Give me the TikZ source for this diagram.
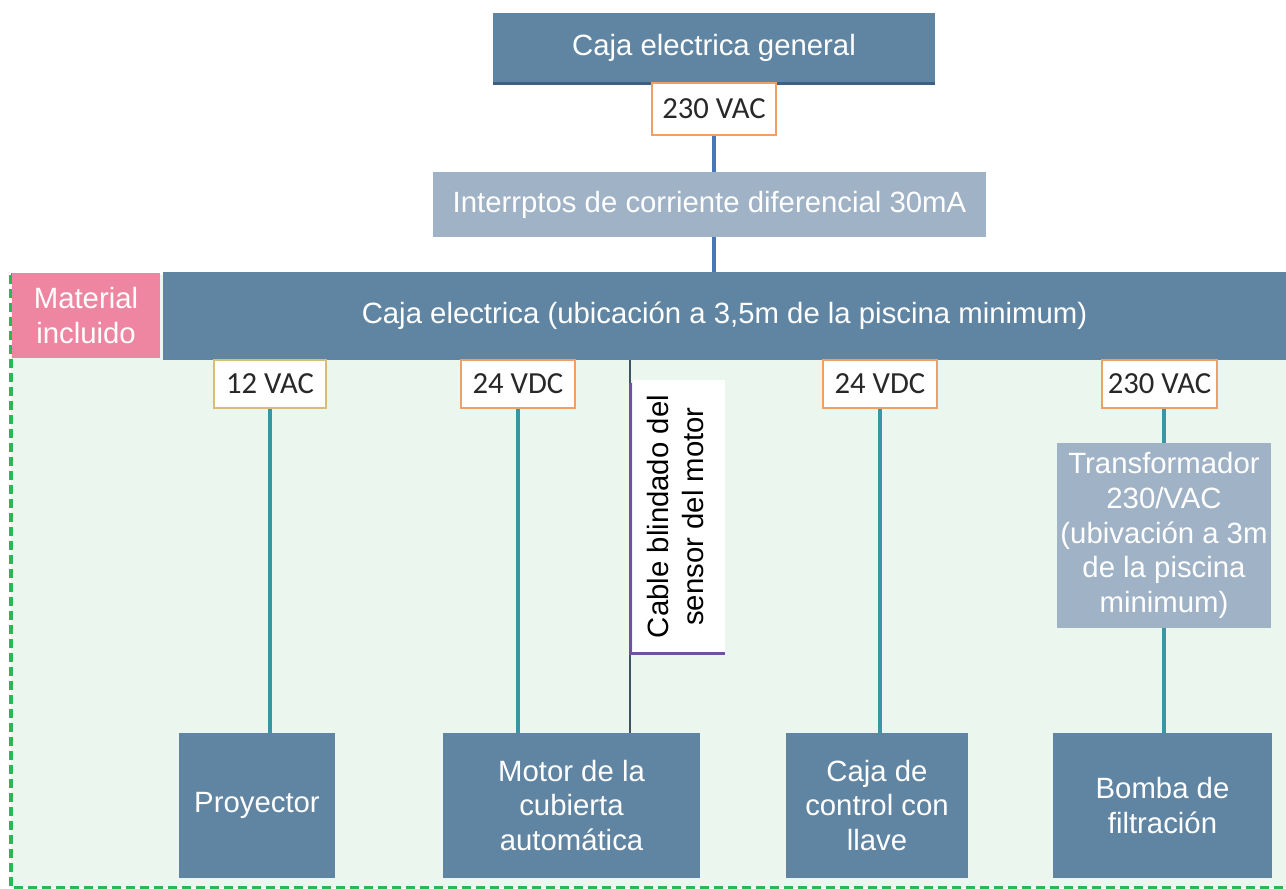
\documentclass[tikz,border=0pt]{standalone}
\usepackage{fontspec}
\setmainfont{Liberation Sans}
\newfontfamily\lblfont{Carlito}
\usetikzlibrary{positioning}

\definecolor{boxblue}{RGB}{96,133,163}
\definecolor{boxgrey}{RGB}{160,178,198}
\definecolor{edgeblue}{RGB}{60,95,130}
\definecolor{pinkbox}{RGB}{238,134,162}
\definecolor{zonefill}{RGB}{234,246,238}
\definecolor{zoneline}{RGB}{40,185,85}
\definecolor{wireteal}{RGB}{58,150,165}
\definecolor{wireblue}{RGB}{70,120,185}
\definecolor{wiredark}{RGB}{60,85,95}
\definecolor{wirepurple}{RGB}{112,80,160}
\definecolor{tagline}{RGB}{240,160,100}
\definecolor{tagyellow}{RGB}{215,190,120}
\definecolor{tagtext}{RGB}{40,40,40}

\begin{document}
\begin{tikzpicture}[x=0.75pt,y=0.75pt,yscale=-1,xscale=1,
    box/.style={fill=boxblue, text=white, inner sep=0pt, align=center,
        font=\fontsize{22}{26}\selectfont},
    lightbox/.style={box, fill=boxgrey},
    tag/.style={fill=white, draw=tagline, line width=1pt, inner sep=0pt,
        text=tagtext, minimum height=36pt, font=\lblfont\fontsize{23}{26}\selectfont},
    wire/.style={wireteal, line width=2.4pt},
    feed/.style={wireblue, line width=2.4pt}
]
\useasboundingbox (0,0) rectangle (1286,889);

% zone of material included
\draw [fill=zonefill, draw=zoneline, line width=2.4pt, dash pattern=on 7pt off 3.5pt]
    (11,274.5) rectangle (1292,888);

% supply chain at the top
\node [box, minimum width=331.5pt, minimum height=52.5pt] (general) at (714,48) {Caja electrica general};
\draw [edgeblue, line width=2pt] (general.south west) -- (general.south east);
\node [tag, minimum width=93pt, minimum height=39pt] (v0) at (714,109) {230 VAC};
\node [lightbox, minimum width=414.75pt, minimum height=48.75pt] (rcd) at (709.5,204.5) {Interrptos de corriente diferencial 30mA};
\node [box, minimum width=842.25pt, minimum height=66pt] (caja) at (724.5,316) {Caja electrica (ubicación a 3,5m de la piscina minimum)};
\node [box, fill=pinkbox, minimum width=111pt, minimum height=63.75pt] (incl) at (86,315.5) {Material\\incluido};

\draw [feed] (v0) -- (v0 |- rcd.north);
\draw [feed] (rcd.south -| v0) -- (v0 |- caja.north);

% voltage tags
\node [tag, draw=tagyellow, minimum width=84pt] (v1) at (270,384) {12 VAC};
\node [tag, minimum width=85.5pt] (v2) at (518,384) {24 VDC};
\node [tag, minimum width=85.5pt] (v3) at (880,384) {24 VDC};
\node [tag, minimum width=86.25pt] (v4) at (1159.5,384) {230 VAC};

% loads
\node [lightbox, minimum width=160.5pt, minimum height=138.75pt] (trafo) at (1164,535.5) {Transformador\\230/VAC\\(ubivación a 3m\\de la piscina\\minimum)};
\node [box, minimum width=117pt, minimum height=108.75pt] (proj) at (257,805.5) {Proyector};
\node [box, minimum width=192.75pt, minimum height=108.75pt] (motor) at (571.5,805.5) {Motor de la\\cubierta\\automática};
\node [box, minimum width=136.5pt, minimum height=108.75pt] (ctrl) at (877,805.5) {Caja de\\control con\\llave};
\node [box, minimum width=164.25pt, minimum height=108.75pt] (bomba) at (1162.5,805.5) {Bomba de\\filtración};

\draw [wire] (v1) -- (v1 |- proj.north);
\draw [wire] (v2) -- (v2 |- motor.north);
\draw [wire] (v3) -- (v3 |- ctrl.north);
\draw [wire] (v4.south -| trafo.north) -- (trafo);
\draw [wire] (trafo.south) -- (trafo.south |- bomba.north);

% shielded sensor cable
\node [fill=white, inner sep=0pt, minimum width=69pt, minimum height=204.75pt,
    font=\fontsize{22}{26}\selectfont] (cab) at (679,516.5)
    {\rotatebox{90}{\begin{tabular}{@{}c@{}}Cable blindado del\\sensor del motor\end{tabular}}};
\coordinate (cabtop) at (630,360);
\draw [wiredark, line width=2pt] (cabtop) -- (cabtop |- motor.north);
\draw [wirepurple, line width=2pt] (cab.north west) ++(-2,3) |- (cab.south east);
\end{tikzpicture}
\end{document}
